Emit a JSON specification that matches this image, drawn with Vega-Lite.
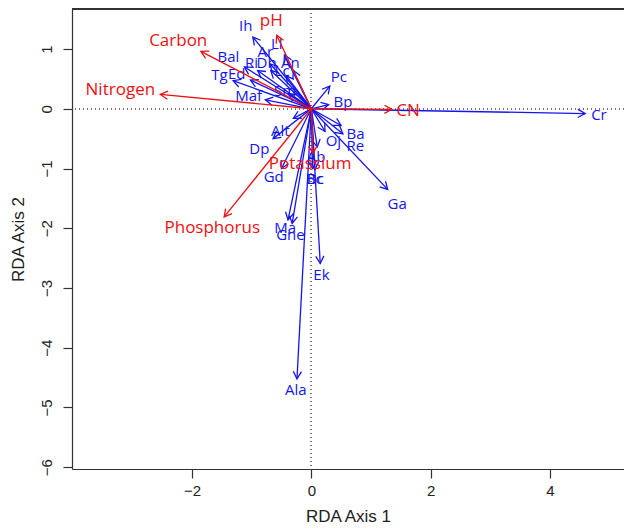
{
  "$schema": "https://vega.github.io/schema/vega-lite/v6.json",
  "width": 552,
  "height": 460,
  "autosize": {"type": "none"},
  "padding": {"left": 72, "top": 9, "right": 0, "bottom": 61},
  "background": "white",
  "config": {
    "view": {"stroke": null},
    "axis": {
      "grid": false,
      "labelFont": "Liberation Sans",
      "labelFontSize": 15,
      "labelColor": "#222222",
      "titleFont": "Liberation Sans",
      "titleFontSize": 17,
      "titleFontWeight": "normal",
      "titleColor": "#222222",
      "tickColor": "#333333",
      "domainColor": "#333333",
      "tickSize": 9,
      "domainWidth": 1.2,
      "tickWidth": 1.2
    }
  },
  "data": {
    "values": [
      {"group": "sp", "name": "Cr", "x": 4.59, "y": -0.08, "lx": 4.82, "ly": -0.11},
      {"group": "sp", "name": "Ga", "x": 1.28, "y": -1.35, "lx": 1.44, "ly": -1.6},
      {"group": "sp", "name": "Ek", "x": 0.15, "y": -2.59, "lx": 0.17, "ly": -2.79},
      {"group": "sp", "name": "Ala", "x": -0.24, "y": -4.52, "lx": -0.26, "ly": -4.7},
      {"group": "sp", "name": "Ma", "x": -0.39, "y": -1.86, "lx": -0.44, "ly": -2.0},
      {"group": "sp", "name": "Gne", "x": -0.32, "y": -1.92, "lx": -0.35, "ly": -2.12},
      {"group": "sp", "name": "Bc", "x": 0.02, "y": -1.0, "lx": 0.05, "ly": -1.17},
      {"group": "sp", "name": "Bc", "x": 0.06, "y": -1.02, "lx": 0.07, "ly": -1.17},
      {"group": "sp", "name": "Gd", "x": -0.5, "y": -1.0, "lx": -0.63, "ly": -1.15},
      {"group": "sp", "name": "Dp", "x": -0.64, "y": -0.5, "lx": -0.87, "ly": -0.67},
      {"group": "sp", "name": "Alt", "x": -0.3, "y": -0.16, "lx": -0.52, "ly": -0.37},
      {"group": "sp", "name": "Ab", "x": 0.1, "y": -0.64, "lx": 0.08, "ly": -0.8},
      {"group": "sp", "name": "Oj", "x": 0.23, "y": -0.38, "lx": 0.37, "ly": -0.54},
      {"group": "sp", "name": "Ba", "x": 0.5, "y": -0.28, "lx": 0.74, "ly": -0.43},
      {"group": "sp", "name": "Re", "x": 0.53, "y": -0.42, "lx": 0.74, "ly": -0.63},
      {"group": "sp", "name": "Bp", "x": 0.29, "y": 0.07, "lx": 0.53, "ly": 0.11},
      {"group": "sp", "name": "Pc", "x": 0.31, "y": 0.38, "lx": 0.46, "ly": 0.53},
      {"group": "sp", "name": "Ih", "x": -0.98, "y": 1.2, "lx": -1.1, "ly": 1.38},
      {"group": "sp", "name": "Ll", "x": -0.45, "y": 0.9, "lx": -0.58, "ly": 1.09},
      {"group": "sp", "name": "Ar", "x": -0.69, "y": 0.75, "lx": -0.77, "ly": 0.95},
      {"group": "sp", "name": "Dh", "x": -0.68, "y": 0.64, "lx": -0.75, "ly": 0.76},
      {"group": "sp", "name": "Ri", "x": -0.9, "y": 0.64, "lx": -1.0, "ly": 0.76},
      {"group": "sp", "name": "An", "x": -0.3, "y": 0.64, "lx": -0.35, "ly": 0.76},
      {"group": "sp", "name": "Lc", "x": -0.42, "y": 0.55, "lx": -0.49, "ly": 0.64},
      {"group": "sp", "name": "Bal", "x": -1.12, "y": 0.7, "lx": -1.39, "ly": 0.87},
      {"group": "sp", "name": "Tg", "x": -1.31, "y": 0.47, "lx": -1.54, "ly": 0.56},
      {"group": "sp", "name": "Ed", "x": -1.02, "y": 0.48, "lx": -1.25, "ly": 0.59},
      {"group": "sp", "name": "Maf", "x": -0.77, "y": 0.15, "lx": -1.05, "ly": 0.21},
      {"group": "sp", "name": "Sm", "x": -0.38, "y": 0.25, "lx": -0.44, "ly": 0.29},
      {"group": "env", "name": "Carbon", "x": -1.85, "y": 0.96, "lx": -2.23, "ly": 1.14},
      {"group": "env", "name": "Nitrogen", "x": -2.53, "y": 0.24, "lx": -3.2, "ly": 0.32},
      {"group": "env", "name": "Phosphorus", "x": -1.46, "y": -1.81, "lx": -1.66, "ly": -1.99},
      {"group": "env", "name": "pH", "x": -0.58, "y": 1.23, "lx": -0.67, "ly": 1.47},
      {"group": "env", "name": "CN", "x": 1.35, "y": -0.01, "lx": 1.62, "ly": -0.03},
      {"group": "env", "name": "Potassium", "x": 0.03, "y": -0.75, "lx": -0.02, "ly": -0.92}
    ]
  },
  "layer": [
    {
      "mark": {"type": "rule", "color": "#777777", "strokeDash": [1, 3], "strokeWidth": 1},
      "encoding": {
        "x": {"datum": 0, "type": "quantitative", "scale": {"domain": [-4.01, 5.24], "nice": false, "zero": false},
              "axis": {"values": [-2, 0, 2, 4], "format": "d", "title": "RDA Axis 1", "labelPadding": 5, "titlePadding": 10}}
      }
    },
    {
      "mark": {"type": "rule", "color": "#777777", "strokeDash": [1, 3], "strokeWidth": 1},
      "encoding": {
        "y": {"datum": 0, "type": "quantitative", "scale": {"domain": [-6.03, 1.67], "nice": false, "zero": false},
              "axis": {"values": [-6, -5, -4, -3, -2, -1, 0, 1], "format": "d", "title": "RDA Axis 2", "labelAngle": -90, "labelPadding": 9, "titlePadding": 12}}
      }
    },
    {
      "mark": {"type": "rule", "color": "#333333", "strokeWidth": 1.2},
      "encoding": {"y": {"datum": 1.67, "type": "quantitative"}}
    },
    {
      "transform": [{"filter": "datum.group === 'sp'"}],
      "mark": {"type": "rule", "color": "#1414f0", "strokeWidth": 1.3},
      "encoding": {
        "x": {"field": "x", "type": "quantitative"},
        "y": {"field": "y", "type": "quantitative"},
        "x2": {"datum": 0},
        "y2": {"datum": 0}
      }
    },
    {
      "transform": [
        {"filter": "datum.group === 'sp'"},
        {"calculate": "-atan2(datum.y, datum.x) * 180 / PI", "as": "ang"}
      ],
      "mark": {"type": "point", "shape": "M-1,-0.55L0,0L-1,0.55", "filled": false, "size": 220, "color": "#1414f0", "strokeWidth": 1.3, "opacity": 1},
      "encoding": {
        "x": {"field": "x", "type": "quantitative"},
        "y": {"field": "y", "type": "quantitative"},
        "angle": {"field": "ang", "type": "quantitative", "scale": null}
      }
    },
    {
      "transform": [{"filter": "datum.group === 'sp'"}],
      "mark": {"type": "text", "color": "#1414f0", "font": "Open Sans", "fontSize": 15, "align": "center", "baseline": "middle"},
      "encoding": {
        "x": {"field": "lx", "type": "quantitative"},
        "y": {"field": "ly", "type": "quantitative"},
        "text": {"field": "name"}
      }
    },
    {
      "transform": [{"filter": "datum.group === 'env'"}],
      "mark": {"type": "rule", "color": "#ee1111", "strokeWidth": 1.3},
      "encoding": {
        "x": {"field": "x", "type": "quantitative"},
        "y": {"field": "y", "type": "quantitative"},
        "x2": {"datum": 0},
        "y2": {"datum": 0}
      }
    },
    {
      "transform": [
        {"filter": "datum.group === 'env'"},
        {"calculate": "-atan2(datum.y, datum.x) * 180 / PI", "as": "ang"}
      ],
      "mark": {"type": "point", "shape": "M-1,-0.55L0,0L-1,0.55", "filled": false, "size": 220, "color": "#ee1111", "strokeWidth": 1.3, "opacity": 1},
      "encoding": {
        "x": {"field": "x", "type": "quantitative"},
        "y": {"field": "y", "type": "quantitative"},
        "angle": {"field": "ang", "type": "quantitative", "scale": null}
      }
    },
    {
      "transform": [{"filter": "datum.group === 'env'"}],
      "mark": {"type": "text", "color": "#ee1111", "font": "Open Sans", "fontSize": 17, "align": "center", "baseline": "middle"},
      "encoding": {
        "x": {"field": "lx", "type": "quantitative"},
        "y": {"field": "ly", "type": "quantitative"},
        "text": {"field": "name"}
      }
    }
  ]
}
